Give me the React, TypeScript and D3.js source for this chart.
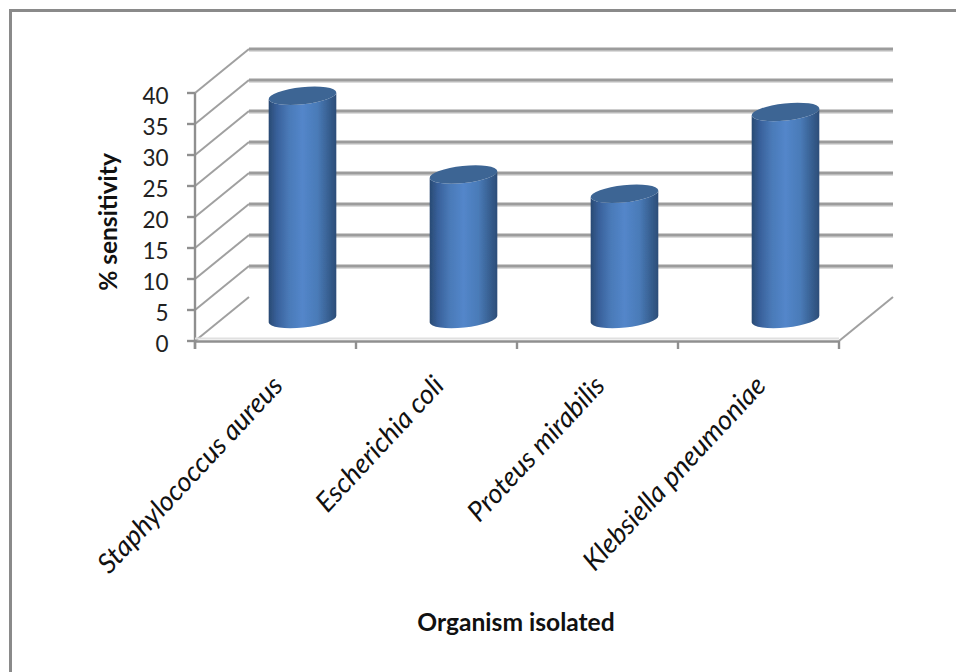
import React from "react";
import * as d3 from "d3";

const categories = ["Staphylococcus aureus", "Escherichia coli", "Proteus mirabilis", "Klebsiella pneumoniae"];
const values = [36, 23.3, 20.2, 33.4];
const yTicks = [0, 5, 10, 15, 20, 25, 30, 35, 40];
const xTitle = "Organism isolated";
const yTitle = "% sensitivity";

const font = "Lato, 'Open Sans', sans-serif";
const dx = 54, dy = -44;
const y = d3.scaleLinear().domain([0, 40]).range([341, 93]);
const x = d3.scaleBand<string>().domain(categories).range([195, 839]);
const grid = "#9c9c9c";
const axis = "#8f8f8f";
const rx = 34, ry = 8.6, tilt = -6;

function cyl(cx: number, base: number, top: number) {
  const ex = rx * Math.cos((tilt * Math.PI) / 180);
  const ey = rx * Math.sin((tilt * Math.PI) / 180);
  const a = `${rx} ${ry} ${tilt}`;
  return {
    side: `M${cx - ex},${top - ey} L${cx - ex},${base - ey} A${a} 0 0 ${cx + ex},${base + ey} L${cx + ex},${top + ey} A${a} 0 1 ${cx - ex},${top - ey} Z`,
    top: `M${cx - ex},${top - ey} A${a} 0 1 ${cx + ex},${top + ey} A${a} 0 1 ${cx - ex},${top - ey} Z`,
  };
}

export default function App() {
  return (
    <svg width={956} height={672} style={{ position: "absolute", left: 0, top: 0, background: "#fff" }}>
      <defs>
        <linearGradient id="cyl" x1="0" x2="1" y1="0" y2="0">
          <stop offset="0" stopColor="#294a73" />
          <stop offset="0.12" stopColor="#38609a" />
          <stop offset="0.3" stopColor="#4a7ab8" />
          <stop offset="0.5" stopColor="#5386ca" />
          <stop offset="0.72" stopColor="#4a7bb8" />
          <stop offset="0.9" stopColor="#365d8e" />
          <stop offset="1" stopColor="#2c4d78" />
        </linearGradient>
        <filter id="soft" x="-5%" y="-5%" width="110%" height="110%">
          <feGaussianBlur stdDeviation="0.45" />
        </filter>
      </defs>
      <path d="M10.5,672 V10.5 H956" fill="none" stroke="#8a8a8a" strokeWidth={3} />
      <g filter="url(#soft)">
        {yTicks.map((t) => (
          <g key={t}>
            {t > 0 && (
              <line x1={195 + dx} x2={839 + dx} y1={y(t) + dy + 2} y2={y(t) + dy + 2} stroke="#dcdcdc" strokeWidth={2} />
            )}
            {t > 0 && <line x1={195 + dx} x2={839 + dx} y1={y(t) + dy} y2={y(t) + dy} stroke={grid} strokeWidth={2.8} />}
            <line x1={195} x2={195 + dx} y1={y(t)} y2={y(t) + dy} stroke="#a0a0a0" strokeWidth={2} />
            <line x1={187} x2={195} y1={y(t)} y2={y(t)} stroke={axis} strokeWidth={2.4} />
          </g>
        ))}
        <line x1={839} x2={839 + dx} y1={341} y2={341 + dy} stroke="#a0a0a0" strokeWidth={2} />
        <line x1={195} x2={195} y1={93} y2={349} stroke={axis} strokeWidth={2.4} />
        <line x1={195} x2={839} y1={338.5} y2={338.5} stroke="#e0e0e0" strokeWidth={2} />
        <line x1={195} x2={839} y1={341.5} y2={341.5} stroke={axis} strokeWidth={2.6} />
        {[...categories.map((c) => x(c)!), 839].map((p, i) => (
          <line key={i} x1={p} x2={p} y1={341} y2={349} stroke={axis} strokeWidth={2.4} />
        ))}
        {categories.map((c, i) => {
          const cx = x(c)! + x.bandwidth() / 2 + dx / 2;
          const s = cyl(cx, y(0) + dy / 2, y(values[i]) + dy / 2);
          return (
            <g key={c}>
              <path d={s.side} fill="url(#cyl)" />
              <path d={s.top} fill="#3d6594" />
            </g>
          );
        })}
      </g>
      {yTicks.map((t) => (
        <text key={t} x={168.5} y={y(t) + 10.5} textAnchor="end" fontFamily={font} fontSize={22.5} fill="#222">
          {t}
        </text>
      ))}
      {categories.map((c) => {
        const px = x(c)! + x.bandwidth() / 2 + 9;
        return (
          <text key={c} transform={`translate(${px},387) rotate(-47)`} textAnchor="end" fontFamily={font} fontStyle="italic" fontSize={27.3} fill="#111">
            {c}
          </text>
        );
      })}
      <text transform="translate(117,222) rotate(-90)" textAnchor="middle" fontFamily={font} fontWeight={700} fontSize={24.5} fill="#111">
        {yTitle}
      </text>
      <text x={516} y={631} textAnchor="middle" fontFamily={font} fontWeight={700} fontSize={24.6} fill="#111">
        {xTitle}
      </text>
    </svg>
  );
}
